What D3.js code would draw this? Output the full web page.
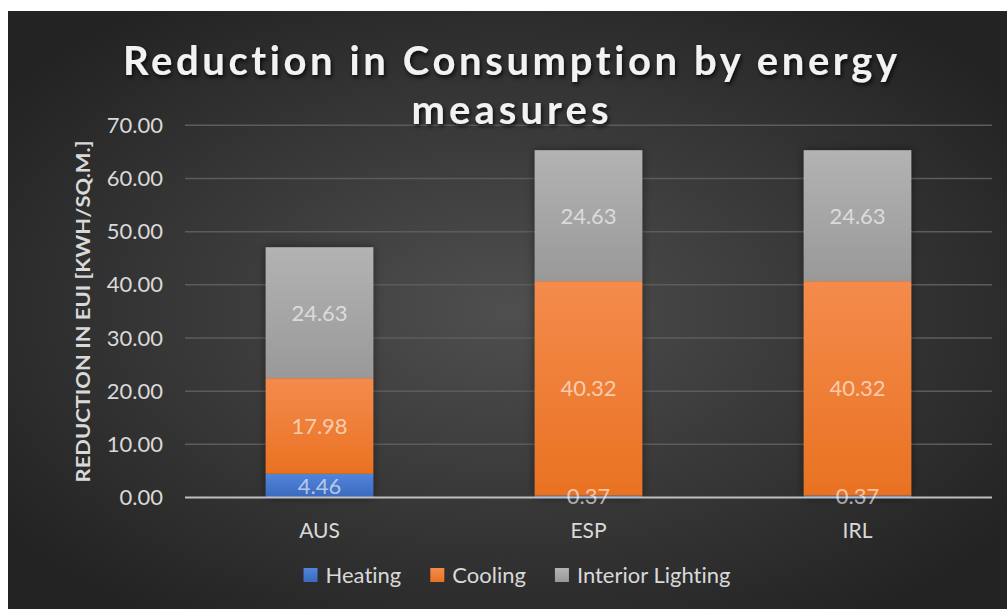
<!DOCTYPE html>
<html>
<head>
<meta charset="utf-8">
<script src="https://cdn.jsdelivr.net/npm/d3@7"></script>
<style>
  html, body { margin: 0; padding: 0; background: #ffffff; }
  svg { display: block; }
  text { font-family: Lato, "Open Sans", sans-serif; font-variant-ligatures: none; }
</style>
</head>
<body>
<svg id="chart" width="1007" height="610"></svg>
<script>
// Reduction in EUI per country, stacked by end use
const countries = ["AUS", "ESP", "IRL"];
const seriesNames = ["Heating", "Cooling", "Interior Lighting"];
const heating = [4.46, 0.37, 0.37];
const cooling = [17.98, 40.32, 40.32];
const interiorLighting = [24.63, 24.63, 24.63];
const yTicks = [0, 10, 20, 30, 40, 50, 60, 70];
const titleLines = ["Reduction in Consumption by energy", "measures"];
const yTitle = "REDUCTION IN EUI [KWH/SQ.M.]";

const rows = countries.map((c, i) => ({
  country: c,
  "Heating": heating[i],
  "Cooling": cooling[i],
  "Interior Lighting": interiorLighting[i]
}));

const svg = d3.select("#chart");
const defs = svg.append("defs");

// background: dark radial glow
const bg = defs.append("radialGradient").attr("id", "bgGrad")
  .attr("cx", "50%").attr("cy", "50%").attr("r", "62%");
bg.append("stop").attr("offset", "0%").attr("stop-color", "#4f4f4f");
bg.append("stop").attr("offset", "100%").attr("stop-color", "#232323");

// series fills: light on top, deeper at the bottom
const fills = {
  "Heating": ["#5285db", "#3a69bd"],
  "Cooling": ["#f48b4c", "#e97222"],
  "Interior Lighting": ["#b3b3b3", "#999999"]
};
seriesNames.forEach((s, i) => {
  const g = defs.append("linearGradient").attr("id", "fill" + i)
    .attr("x1", 0).attr("y1", 0).attr("x2", 0).attr("y2", 1);
  g.append("stop").attr("offset", "0%").attr("stop-color", fills[s][0]);
  g.append("stop").attr("offset", "100%").attr("stop-color", fills[s][1]);
});

const shadow = defs.append("filter").attr("id", "barShadow")
  .attr("x", "-20%").attr("y", "-20%").attr("width", "140%").attr("height", "140%");
shadow.append("feDropShadow").attr("dx", 0).attr("dy", 0)
  .attr("stdDeviation", 5).attr("flood-color", "#000").attr("flood-opacity", 0.45);

const titleShadow = defs.append("filter").attr("id", "titleShadow")
  .attr("x", "-10%").attr("y", "-30%").attr("width", "120%").attr("height", "160%");
titleShadow.append("feDropShadow").attr("dx", 1.5).attr("dy", 2.5)
  .attr("stdDeviation", 2).attr("flood-color", "#000").attr("flood-opacity", 0.8);

// chart area
svg.append("rect").attr("x", 8).attr("y", 11).attr("width", 999).attr("height", 598)
  .attr("fill", "url(#bgGrad)");

const plot = { left: 185, right: 992, top: 125.3, bottom: 497.5 };

const x = d3.scaleBand().domain(countries)
  .range([plot.left, plot.right]).paddingInner(0.6).paddingOuter(0.3);
const y = d3.scaleLinear().domain([0, 70]).range([plot.bottom, plot.top]);

// gridlines
svg.append("g").selectAll("line").data(yTicks.filter(t => t > 0)).join("line")
  .attr("x1", plot.left).attr("x2", plot.right)
  .attr("y1", d => y(d)).attr("y2", d => y(d))
  .attr("stroke", "#5c5c5c").attr("stroke-width", 1.5);

// y axis tick labels
const yAxis = d3.axisLeft(y).tickValues(yTicks).tickFormat(d3.format(".2f")).tickSize(0).tickPadding(22);
const yg = svg.append("g").attr("transform", `translate(${plot.left},0)`).call(yAxis);
yg.select(".domain").remove();
yg.selectAll("text").attr("fill", "#d9d9d9").attr("font-size", 22)
  .attr("font-family", "Lato, sans-serif");

// stacked bars
const stack = d3.stack().keys(seriesNames);
const layers = stack(rows);

const barGroups = svg.append("g").selectAll("g.col").data(countries).join("g")
  .attr("class", "col").attr("filter", "url(#barShadow)");

barGroups.each(function (c, ci) {
  const g = d3.select(this);
  layers.forEach((layer, si) => {
    const seg = layer[ci];
    g.append("rect")
      .attr("x", x(c)).attr("width", x.bandwidth())
      .attr("y", y(seg[1])).attr("height", y(seg[0]) - y(seg[1]))
      .attr("fill", `url(#fill${si})`);
  });
});

// zero line
svg.append("line").attr("x1", plot.left).attr("x2", plot.right)
  .attr("y1", y(0)).attr("y2", y(0)).attr("stroke", "#bfbfbf").attr("stroke-width", 2.2);

// data labels centred in each segment
const labels = svg.append("g");
layers.forEach((layer, si) => {
  layer.forEach((seg, ci) => {
    labels.append("text")
      .attr("x", x(countries[ci]) + x.bandwidth() / 2)
      .attr("y", y((seg[0] + seg[1]) / 2))
      .attr("dy", "0.36em")
      .attr("text-anchor", "middle")
      .attr("font-size", 22)
      .attr("fill", "#ffffff").attr("fill-opacity", 0.62)
      .text(d3.format(".2f")(seg[1] - seg[0]));
  });
});

// category labels
const xAxis = d3.axisBottom(x).tickSize(0).tickPadding(26);
const xg = svg.append("g").attr("transform", `translate(0,${plot.bottom})`).call(xAxis);
xg.select(".domain").remove();
xg.selectAll("text").attr("fill", "#d9d9d9").attr("font-size", 21)
  .attr("font-family", "Lato, sans-serif");

// y axis title
svg.append("text")
  .attr("transform", `translate(90,${(plot.top + plot.bottom) / 2}) rotate(-90)`)
  .attr("text-anchor", "middle")
  .attr("font-size", 19).attr("font-weight", "bold")
  .attr("fill", "#d9d9d9")
  .attr("textLength", 342).attr("lengthAdjust", "spacingAndGlyphs")
  .text(yTitle);

// title
const titleWidths = [774, 197];
const titleBaselines = [75, 124];
titleLines.forEach((line, i) => {
  svg.append("text")
    .attr("x", 510).attr("y", titleBaselines[i])
    .attr("text-anchor", "middle")
    .attr("font-size", 40).attr("font-weight", "bold")
    .attr("fill", "#f2f2f2")
    .attr("filter", "url(#titleShadow)")
    .attr("textLength", titleWidths[i]).attr("lengthAdjust", "spacing")
    .text(line);
});

// legend
const legend = svg.append("g");
const items = legend.selectAll("g").data(seriesNames).join("g");
items.append("rect").attr("width", 14).attr("height", 14).attr("y", -7)
  .attr("fill", (d, i) => `url(#fill${i})`);
items.append("text").attr("x", 22).attr("dy", "0.36em")
  .attr("font-size", 22).attr("fill", "#d9d9d9").text(d => d);
let cursor = 0;
const offsets = [];
items.each(function () {
  offsets.push(cursor);
  const w = 22 + d3.select(this).select("text").node().getComputedTextLength();
  cursor += w + 29;
});
const total = cursor - 29;
const startX = 517 - total / 2;
items.attr("transform", (d, i) => `translate(${startX + offsets[i]},575)`);
</script>
</body>
</html>
